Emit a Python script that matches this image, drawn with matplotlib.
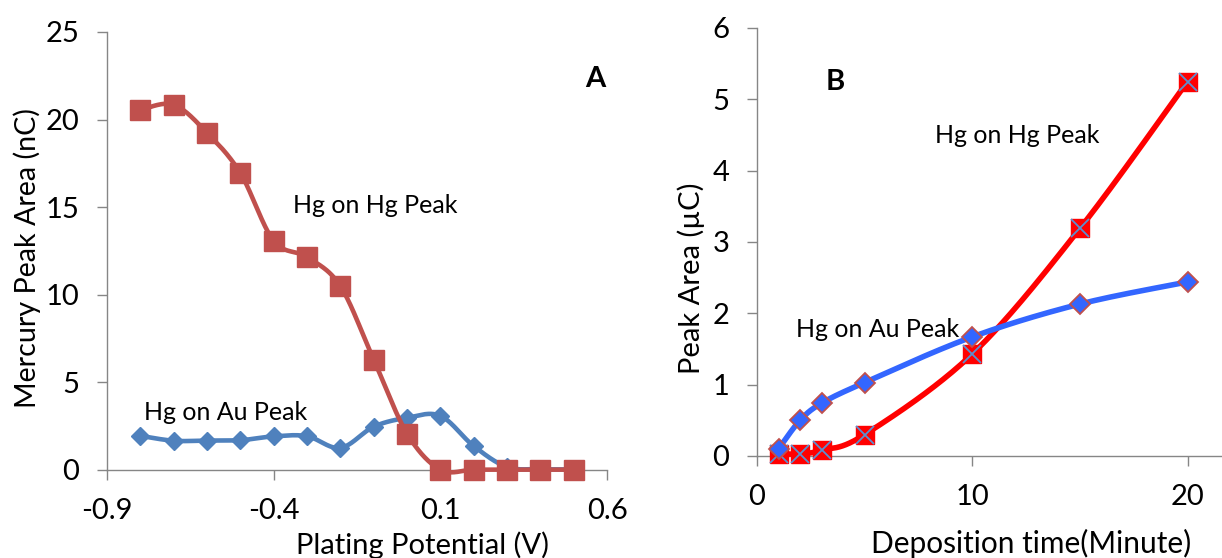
import numpy as np
import matplotlib
matplotlib.use("Agg")
import matplotlib.pyplot as plt

# ---------------- data ----------------
potential_V = [-0.8, -0.7, -0.6, -0.5, -0.4, -0.3, -0.2, -0.1, 0.0, 0.1, 0.2, 0.3, 0.4, 0.5]
hg_on_hg_A = [20.55, 20.85, 19.25, 16.95, 13.08, 12.16, 10.5, 6.3, 2.08, 0.02, 0.02, 0.02, 0.02, 0.02]
hg_on_au_A = [1.95, 1.67, 1.68, 1.70, 1.92, 1.93, 1.26, 2.47, 2.98, 3.09, 1.37, 0.17, 0.05, 0.03]

time_min = [1, 2, 3, 5, 10, 15, 20]
hg_on_hg_B = [0.03, 0.03, 0.08, 0.30, 1.43, 3.19, 5.25]
hg_on_au_B = [0.10, 0.50, 0.74, 1.03, 1.67, 2.13, 2.44]

xticks_A = [-0.9, -0.4, 0.1, 0.6]
yticks_A = [0, 5, 10, 15, 20, 25]
xticks_B = [0, 10, 20]
yticks_B = [0, 1, 2, 3, 4, 5, 6]

plt.rcParams["font.family"] = ["Lato", "DejaVu Sans"]

GREY = "#868686"


def smooth(x, y, sx, sy, n=40):
    """Excel-like smoothed line (Catmull-Rom Bezier) computed in normalised space."""
    p = np.column_stack([np.asarray(x, float) / sx, np.asarray(y, float) / sy])
    out = []
    m = len(p)
    for i in range(m - 1):
        p0 = p[i - 1] if i > 0 else p[i]
        p1 = p[i]
        p2 = p[i + 1]
        p3 = p[i + 2] if i + 2 < m else p[i + 1]
        c1 = p1 + (p2 - p0) / 6.0
        c2 = p2 - (p3 - p1) / 6.0
        t = np.linspace(0, 1, n)[:, None]
        seg = ((1 - t) ** 3) * p1 + 3 * ((1 - t) ** 2) * t * c1 + 3 * (1 - t) * t ** 2 * c2 + t ** 3 * p2
        out.append(seg if i == 0 else seg[1:])
    out = np.vstack(out)
    return out[:, 0] * sx, out[:, 1] * sy


def style_axes(ax):
    for s in ["top", "right"]:
        ax.spines[s].set_visible(False)
    for s in ["left", "bottom"]:
        ax.spines[s].set_color(GREY)
        ax.spines[s].set_linewidth(1.0)
    ax.tick_params(axis="both", direction="out", length=7, width=1.0, color=GREY,
                   labelsize=21, pad=13)


fig = plt.figure(figsize=(12.22, 5.58), dpi=100)

# ---------------- panel A ----------------
axA = fig.add_axes([107 / 1222, 88 / 558, 500 / 1222, 438 / 558])
axA.set_xlim(-0.9, 0.6)
axA.set_ylim(0, 25)
style_axes(axA)
axA.set_xticks(xticks_A)
axA.set_xticklabels(["-0.9", "-0.4", "0.1", "0.6"])
axA.set_yticks(yticks_A)

sx, sy = 1.5, 25 * 438 / 500
xs, ys = smooth(potential_V, hg_on_au_A, sx, sy)
axA.plot(xs, ys, color="#4F81BD", lw=3.3, solid_capstyle="round", clip_on=False, zorder=3)
axA.plot(potential_V, hg_on_au_A, ls="none", marker="D", ms=9.5, color="#4F81BD",
         mec="#4F81BD", clip_on=False, zorder=4)
xs, ys = smooth(potential_V, hg_on_hg_A, sx, sy)
axA.plot(xs, ys, color="#C0504D", lw=3.3, solid_capstyle="round", clip_on=False, zorder=5)
axA.plot(potential_V, hg_on_hg_A, ls="none", marker="s", ms=14, color="#C0504D",
         mec="#C0504D", clip_on=False, zorder=6)

axA.text(-0.342, 15.1, "Hg on Hg Peak", fontsize=18, va="center", ha="left")
axA.text(-0.789, 3.3, "Hg on Au Peak", fontsize=18, va="center", ha="left")
axA.text(0.564, 22.3, "A", fontsize=21, fontweight="bold", va="center", ha="center")

fig.text(27 / 1222, 1 - 258 / 558, "Mercury Peak Area (nC)", rotation=90,
         fontsize=20.6, va="center", ha="center")
fig.text(423 / 1222, 1 - 545 / 558, "Plating Potential (V)", fontsize=21,
         va="center", ha="center")

# ---------------- panel B ----------------
axB = fig.add_axes([757 / 1222, 102 / 558, 465 / 1222, 428 / 558])
axB.set_xlim(0, 21.6)
axB.set_ylim(0, 6)
style_axes(axB)
axB.set_xticks(xticks_B)
axB.set_yticks(yticks_B)

sx, sy = 21.6, 6 * 428 / 465
xs, ys = smooth(time_min, hg_on_hg_B, sx, sy)
axB.plot(xs, ys, color="#FF0000", lw=4.0, solid_capstyle="round", clip_on=False, zorder=3)
axB.plot(time_min, hg_on_hg_B, ls="none", marker="s", ms=13.5, color="#FF0000",
         mec="#FF0000", clip_on=False, zorder=4)
axB.plot(time_min, hg_on_hg_B, ls="none", marker="x", ms=13, color="#5B8FD0",
         mew=1.3, clip_on=False, zorder=5)
xs, ys = smooth(time_min, hg_on_au_B, sx, sy)
axB.plot(xs, ys, color="#3366FF", lw=4.0, solid_capstyle="round", clip_on=False, zorder=6)
axB.plot(time_min, hg_on_au_B, ls="none", marker="D", ms=10, color="#3366FF",
         mec="#C0504D", mew=1.3, clip_on=False, zorder=7)

axB.text(8.26, 4.49, "Hg on Hg Peak", fontsize=18, va="center", ha="left")
axB.text(1.81, 1.78, "Hg on Au Peak", fontsize=18, va="center", ha="left")
axB.text(3.62, 5.24, "B", fontsize=21, fontweight="bold", va="center", ha="center")

fig.text(691 / 1222, 1 - 278 / 558, "Peak Area (µC)", rotation=90,
         fontsize=21, va="center", ha="center")
fig.text(1031 / 1222, 1 - 543 / 558, "Deposition time(Minute)", fontsize=21.5,
         va="center", ha="center")

fig.savefig("out.png", dpi=100)
